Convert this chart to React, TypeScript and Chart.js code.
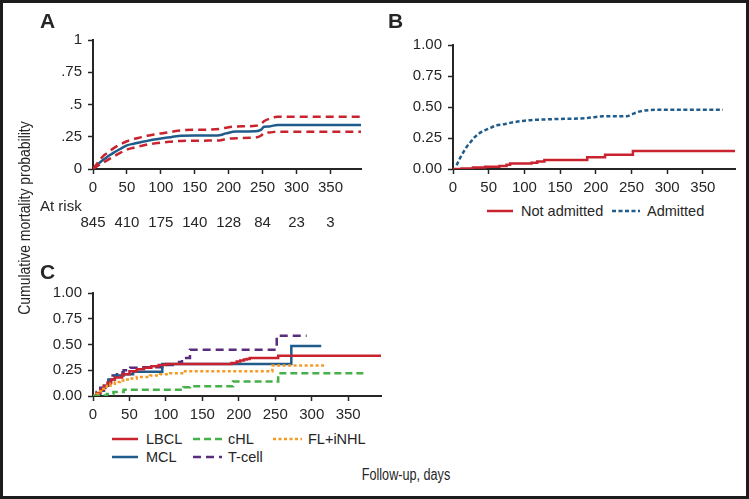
import { useEffect, useRef } from "react"
import { Chart, registerables } from "chart.js"

Chart.register(...registerables)

const FONT = '"Liberation Sans", Arial, sans-serif'
const INK = "#262626"

const RED = "#c8232f"
const BLUE = "#1f5b8b"
const GREEN = "#46b04a"
const ORANGE = "#f59a23"
const PURPLE = "#5a2c7c"

// shared x axis (follow-up, days)
const xTicks = [0, 50, 100, 150, 200, 250, 300, 350]
const xMax = 395

// A: overall cumulative mortality with 95% CI
const daysA = [0, 5, 10, 15, 20, 25, 30, 40, 50, 60, 70, 80, 90, 100, 115, 130, 150, 170, 186, 196, 211, 240, 248, 252, 260, 272, 395]
const estA = [0, 0.025, 0.05, 0.07, 0.09, 0.108, 0.125, 0.155, 0.183, 0.196, 0.207, 0.218, 0.228, 0.236, 0.247, 0.258, 0.259, 0.259, 0.262, 0.276, 0.29, 0.292, 0.305, 0.327, 0.33, 0.342, 0.342]
const upperA = [0, 0.035, 0.07, 0.1, 0.12, 0.14, 0.16, 0.19, 0.215, 0.232, 0.245, 0.258, 0.268, 0.276, 0.288, 0.3, 0.304, 0.305, 0.31, 0.32, 0.33, 0.335, 0.35, 0.37, 0.39, 0.405, 0.405]
const lowerA = [0, 0.018, 0.035, 0.05, 0.065, 0.08, 0.095, 0.125, 0.15, 0.165, 0.178, 0.19, 0.198, 0.205, 0.212, 0.218, 0.219, 0.22, 0.221, 0.232, 0.239, 0.244, 0.26, 0.279, 0.283, 0.289, 0.289]
const atRisk = [845, 410, 175, 140, 128, 84, 23, 3]
const yTicks = [0, 0.25, 0.5, 0.75, 1]
const yLabelsA = ["0", ".25", ".5", ".75", "1"]
const yLabelsBC = ["0.00", "0.25", "0.50", "0.75", "1.00"]

// B: by admission
const daysNotAdmitted = [0, 12, 28, 45, 65, 75, 80, 110, 118, 128, 188, 213, 252, 395]
const notAdmitted = [0, 0.005, 0.012, 0.018, 0.025, 0.035, 0.045, 0.05, 0.06, 0.073, 0.095, 0.115, 0.146, 0.146]
const daysAdmitted = [5, 10, 15, 20, 25, 30, 35, 40, 50, 60, 70, 80, 100, 130, 160, 187, 200, 210, 243, 250, 262, 275, 285, 378]
const admitted = [0.03, 0.09, 0.14, 0.185, 0.22, 0.255, 0.28, 0.3, 0.325, 0.35, 0.36, 0.372, 0.39, 0.4, 0.405, 0.41, 0.42, 0.425, 0.425, 0.44, 0.465, 0.475, 0.478, 0.478]

// C: by lymphoma subtype
const daysLBCL = [0, 5, 10, 15, 20, 25, 30, 40, 50, 60, 70, 80, 90, 100, 190, 197, 202, 207, 211, 215, 254, 395]
const lbcl = [0, 0.03, 0.06, 0.1, 0.13, 0.16, 0.18, 0.21, 0.24, 0.26, 0.275, 0.29, 0.3, 0.31, 0.32, 0.335, 0.345, 0.355, 0.36, 0.37, 0.39, 0.39]
const daysMCL = [0, 5, 10, 15, 21, 30, 42, 55, 95, 272, 313]
const mcl = [0, 0.02, 0.05, 0.1, 0.16, 0.2, 0.21, 0.235, 0.31, 0.485, 0.485]
const daysTcell = [0, 5, 10, 17, 24, 33, 42, 51, 64, 95, 118, 122, 133, 252, 293]
const tcell = [0, 0.04, 0.08, 0.12, 0.2, 0.23, 0.25, 0.275, 0.28, 0.3, 0.33, 0.37, 0.45, 0.585, 0.585]
const daysCHL = [0, 10, 19, 28, 42, 124, 133, 192, 254, 373]
const chl = [0, 0.005, 0.02, 0.04, 0.06, 0.085, 0.095, 0.14, 0.22, 0.22]
const daysFL = [0, 5, 10, 14, 19, 24, 30, 37, 45, 51, 60, 78, 92, 106, 124, 246, 320]
const fl = [0, 0.02, 0.045, 0.07, 0.1, 0.12, 0.135, 0.15, 0.16, 0.17, 0.185, 0.2, 0.21, 0.22, 0.24, 0.295, 0.295]

function series(days: number[], vals: number[], color: string, dash: number[] = [], extra: any = {}) {
  return {
    data: days.map((d, i) => ({ x: d, y: vals[i] })),
    borderColor: color,
    borderWidth: 2.5,
    borderDash: dash,
    pointRadius: 0,
    fill: false,
    ...extra,
  }
}

const atRiskPlugin = {
  id: "atRisk",
  afterDraw(chart: any) {
    const { ctx, chartArea, scales } = chart
    ctx.save()
    ctx.fillStyle = INK
    ctx.font = `15px ${FONT}`
    ctx.textBaseline = "alphabetic"
    ctx.textAlign = "left"
    ctx.fillText("At risk", chartArea.left - 53, chartArea.bottom + 42)
    ctx.textAlign = "center"
    xTicks.forEach((t, i) => {
      ctx.fillText(String(atRisk[i]), scales.x.getPixelForValue(t), chartArea.bottom + 58)
    })
    ctx.restore()
  },
}

type Box = { left: number; top: number; right: number; bottom: number }

function Panel({ box, yW, xH, yLabels, datasets, plugins = [] }: { box: Box; yW: number; xH: number; yLabels: string[]; datasets: any[]; plugins?: any[] }) {
  const canvasRef = useRef<HTMLCanvasElement>(null)
  const padT = 12
  const padR = 10
  const w = yW + box.right - box.left + padR
  const h = padT + box.bottom - box.top + xH

  useEffect(() => {
    const ctx = canvasRef.current?.getContext("2d")
    if (!ctx) return
    const axis = {
      border: { display: true, color: INK, width: 2 },
      grid: { display: true, drawOnChartArea: false, drawTicks: true, tickLength: 5, tickWidth: 1.5, tickColor: INK },
    }
    const tickFont = { family: FONT, size: 15 }
    const chart = new Chart(ctx, {
      type: "line",
      data: { datasets },
      options: {
        responsive: false,
        maintainAspectRatio: false,
        animation: false,
        layout: { padding: { top: padT, right: padR, left: 0, bottom: 0 } },
        plugins: { legend: { display: false }, tooltip: { enabled: false } },
        scales: {
          x: {
            type: "linear",
            min: 0,
            max: xMax,
            ...axis,
            ticks: { color: INK, font: tickFont, padding: 5, maxRotation: 0, autoSkip: false },
            afterBuildTicks: (s: any) => {
              s.ticks = xTicks.map((v) => ({ value: v }))
            },
            afterFit: (s: any) => {
              s.height = xH
            },
          },
          y: {
            type: "linear",
            min: 0,
            max: 1,
            ...axis,
            ticks: { color: INK, font: tickFont, padding: 6, callback: (_v: any, i: number) => yLabels[i] },
            afterBuildTicks: (s: any) => {
              s.ticks = yTicks.map((v) => ({ value: v }))
            },
            afterFit: (s: any) => {
              s.width = yW
            },
          },
        },
      } as any,
      plugins,
    })
    return () => {
      chart.destroy()
    }
  }, [])

  return (
    <canvas
      ref={canvasRef}
      width={w}
      height={h}
      style={{ position: "absolute", left: box.left - yW, top: box.top - padT, width: w, height: h }}
    />
  )
}

function Label({ x, base, size = 14.5, bold = false, children }: { x: number; base: number; size?: number; bold?: boolean; children: any }) {
  return (
    <div
      style={{
        position: "absolute",
        left: x,
        top: base - 0.85 * size,
        fontSize: size,
        lineHeight: `${size}px`,
        fontWeight: bold ? 700 : 400,
        whiteSpace: "nowrap",
      }}
    >
      {children}
    </div>
  )
}

function Sample({ x1, x2, y, color, dash }: { x1: number; x2: number; y: number; color: string; dash?: number[] }) {
  return (
    <svg style={{ position: "absolute", left: x1, top: y - 3, overflow: "visible" }} width={x2 - x1} height={6}>
      <line x1={0} y1={3} x2={x2 - x1} y2={3} stroke={color} strokeWidth={2.5} strokeDasharray={dash ? dash.join(" ") : undefined} />
    </svg>
  )
}

export default function App() {
  const smooth = { tension: 0.3, cubicInterpolationMode: "monotone" }
  const step = { stepped: true }

  const dsA = [
    series(daysA, upperA, RED, [8, 5], smooth),
    series(daysA, lowerA, RED, [8, 5], smooth),
    series(daysA, estA, BLUE, [], smooth),
  ]
  const dsB = [
    series(daysNotAdmitted, notAdmitted, RED, [], step),
    series(daysAdmitted, admitted, BLUE, [4, 2.5], smooth),
  ]
  const dsC = [
    series(daysCHL, chl, GREEN, [7, 4], step),
    series(daysFL, fl, ORANGE, [3, 2.5], step),
    series(daysLBCL, lbcl, RED, [], step),
    series(daysMCL, mcl, BLUE, [], step),
    series(daysTcell, tcell, PURPLE, [8, 5], step),
  ]

  return (
    <div
      style={{
        position: "absolute",
        left: 0,
        top: 0,
        width: 749,
        height: 499,
        background: "#fff",
        fontFamily: FONT,
        color: INK,
        overflow: "hidden",
      }}
    >
      <Panel box={{ left: 93, right: 361, top: 37, bottom: 169 }} yW={60} xH={70} yLabels={yLabelsA} datasets={dsA} plugins={[atRiskPlugin]} />
      <Panel box={{ left: 453, right: 735, top: 42, bottom: 169 }} yW={50} xH={30} yLabels={yLabelsBC} datasets={dsB} />
      <Panel box={{ left: 93, right: 381, top: 290, bottom: 396 }} yW={60} xH={30} yLabels={yLabelsBC} datasets={dsC} />

      <Label x={40} base={28} size={21} bold>A</Label>
      <Label x={388} base={28} size={21} bold>B</Label>
      <Label x={40} base={279} size={21} bold>C</Label>

      <Sample x1={487} x2={513} y={211} color={RED} />
      <Label x={521} base={216}>Not admitted</Label>
      <Sample x1={612} x2={640} y={211} color={BLUE} dash={[4, 2.5]} />
      <Label x={647} base={216}>Admitted</Label>

      <Sample x1={112} x2={138} y={439} color={RED} />
      <Label x={146} base={444}>LBCL</Label>
      <Sample x1={193} x2={222} y={439} color={GREEN} dash={[7, 4]} />
      <Label x={228} base={444}>cHL</Label>
      <Sample x1={273} x2={302} y={439} color={ORANGE} dash={[3, 2.5]} />
      <Label x={308} base={444}>FL+iNHL</Label>
      <Sample x1={112} x2={138} y={457} color={BLUE} />
      <Label x={146} base={462}>MCL</Label>
      <Sample x1={193} x2={222} y={457} color={PURPLE} dash={[8, 5]} />
      <Label x={228} base={462}>T-cell</Label>

      <div
        style={{
          position: "absolute",
          left: 25,
          top: 218,
          fontSize: 16,
          lineHeight: "16px",
          whiteSpace: "nowrap",
          transform: "translate(-50%, -50%) rotate(-90deg) scaleX(0.87)",
        }}
      >
        Cumulative mortality probability
      </div>
      <div
        style={{
          position: "absolute",
          left: 406,
          top: 480.5 - 0.85 * 16,
          fontSize: 16,
          lineHeight: "16px",
          whiteSpace: "nowrap",
          transform: "translateX(-50%) scaleX(0.79)",
        }}
      >
        Follow-up, days
      </div>

      <div
        style={{
          position: "absolute",
          left: 0,
          top: 0,
          width: 749,
          height: 499,
          boxSizing: "border-box",
          border: "3px solid #1c1c1c",
          pointerEvents: "none",
        }}
      />
    </div>
  )
}
